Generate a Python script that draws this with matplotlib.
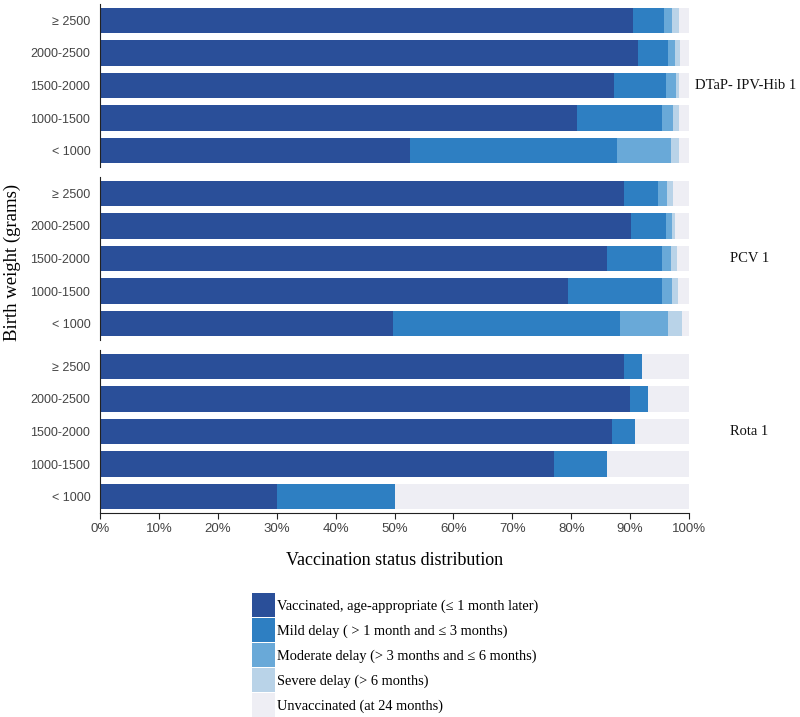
import numpy as np
import matplotlib.pyplot as plt
from matplotlib.patches import Patch

weights = ['≥ 2500', '2000-2500', '1500-2000', '1000-1500', '< 1000']
vaccines = ['DTaP- IPV-Hib 1', 'PCV 1', 'Rota 1']
status = ['Vaccinated, age-appropriate (≤ 1 month later)',
          'Mild delay ( > 1 month and ≤ 3 months)',
          'Moderate delay (> 3 months and ≤ 6 months)',
          'Severe delay (> 6 months)',
          'Unvaccinated (at 24 months)']
colors = ['#2a4f99', '#2e7fc2', '#69a9d8', '#b9d3e8', '#eeeef4']

# percent per status, rows follow `weights`
dtap_ontime = [90.5, 91.3, 87.3, 80.9, 52.6]
dtap_mild = [5.3, 5.2, 8.8, 14.5, 35.2]
dtap_moderate = [1.3, 1.1, 1.7, 1.9, 9.1]
dtap_severe = [1.2, 0.8, 0.5, 1.0, 1.4]
dtap_unvacc = [1.7, 1.6, 1.7, 1.7, 1.7]

pcv_ontime = [88.9, 90.1, 86.0, 79.5, 49.7]
pcv_mild = [5.8, 6.0, 9.5, 16.0, 38.6]
pcv_moderate = [1.6, 1.0, 1.4, 1.6, 8.2]
pcv_severe = [1.0, 0.6, 1.0, 1.0, 2.3]
pcv_unvacc = [2.7, 2.3, 2.1, 1.9, 1.2]

rota_ontime = [89.0, 90.0, 87.0, 77.1, 30.0]
rota_mild = [3.0, 3.0, 3.9, 8.9, 20.0]
rota_moderate = [0, 0, 0, 0, 0]
rota_severe = [0, 0, 0, 0, 0]
rota_unvacc = [8.0, 7.0, 9.1, 14.0, 50.0]

panels = [
    [dtap_ontime, dtap_mild, dtap_moderate, dtap_severe, dtap_unvacc],
    [pcv_ontime, pcv_mild, pcv_moderate, pcv_severe, pcv_unvacc],
    [rota_ontime, rota_mild, rota_moderate, rota_severe, rota_unvacc],
]

serif = 'Liberation Serif'
sans = 'Liberation Sans'

fig = plt.figure(figsize=(8, 7.17), dpi=100)
W, H = 800, 717
left, right = 100, 689
tops = [4, 177, 350]
ph = 163
label_x = [1.01, 1.07, 1.07]

y = np.arange(len(weights))
for i, (top, series) in enumerate(zip(tops, panels)):
    ax = fig.add_axes([left / W, 1 - (top + ph) / H, (right - left) / W, ph / H])
    start = np.zeros(len(weights))
    for vals, c in zip(series, colors):
        vals = np.array(vals, dtype=float)
        ax.barh(y, vals, left=start, height=0.78, color=c, edgecolor='none')
        start += vals
    ax.set_xlim(0, 100)
    ax.set_ylim(4.5, -0.5)
    ax.set_yticks(y)
    ax.set_yticklabels(weights, fontfamily=sans, fontsize=9, color='#444444')
    ax.tick_params(axis='y', length=0, pad=7)
    for s in ['top', 'right']:
        ax.spines[s].set_visible(False)
    ax.spines['left'].set_color('#222222')
    ax.text(label_x[i], 0.5, vaccines[i], transform=ax.transAxes, ha='left',
            va='center', fontfamily=serif, fontsize=10.5, color='#111111')
    if i < 2:
        ax.spines['bottom'].set_visible(False)
        ax.set_xticks([])
    else:
        ax.spines['bottom'].set_color('#222222')
        ax.set_xticks(np.arange(0, 101, 10))
        ax.set_xticklabels([f'{v}%' for v in range(0, 101, 10)],
                           fontfamily=sans, fontsize=9.5, color='#444444')
        ax.tick_params(axis='x', length=4, color='#222222')
        ax.set_xlabel('Vaccination status distribution', fontfamily=serif,
                      fontsize=13, labelpad=12)

fig.text(12 / W, 1 - 262 / H, 'Birth weight (grams)', rotation=90, ha='center',
         va='center', fontfamily=serif, fontsize=13.5)

handles = [Patch(facecolor=c, edgecolor='none') for c in colors]
fig.legend(handles, status, loc='upper left', bbox_to_anchor=(242 / W, 1 - 583 / H),
           frameon=False, prop={'family': serif, 'size': 10.4},
           handlelength=1.55, handleheight=2.2, labelspacing=0.05,
           handletextpad=0.15, borderpad=0.2)

fig.savefig('out.png', dpi=100)
